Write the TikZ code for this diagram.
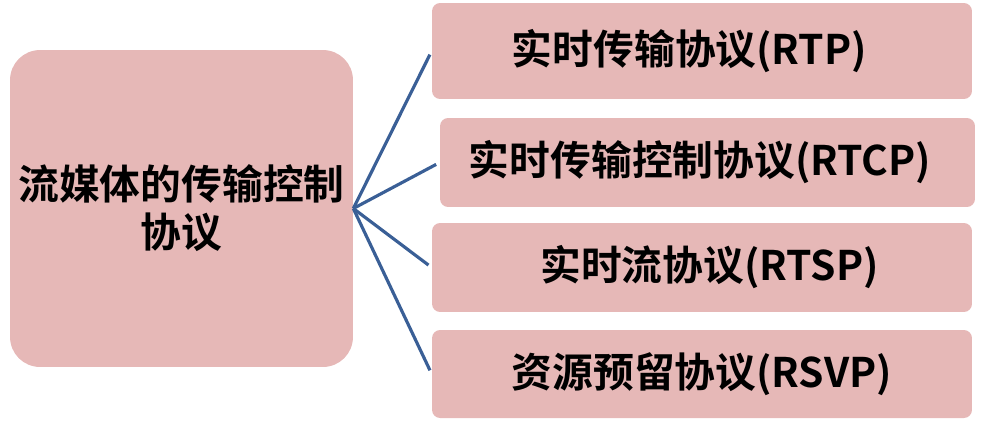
\documentclass[tikz,border=0pt]{standalone}
\usepackage{fontspec}
\usepackage{tikz}
\usepackage{xcolor}
\usetikzlibrary{arrows.meta,positioning}
\newfontfamily\cjk{Noto Sans CJK SC}[BoldFont={Noto Sans CJK SC Bold}]
\definecolor{boxpink}{RGB}{230,184,183}
\definecolor{linkblue}{RGB}{58,95,150}

\begin{document}
\begin{tikzpicture}[
    x=0.02cm,y=-0.02cm,
    every node/.style={font=\cjk\bfseries\fontsize{23.2}{27.3}\selectfont},
    topic/.style={rectangle,rounded corners=0.6cm,fill=boxpink,align=center,
      minimum width=6.86cm,minimum height=6.34cm,inner sep=0pt},
    proto/.style={rectangle,rounded corners=0.16cm,fill=boxpink,
      minimum width=10.8cm,inner sep=0pt},
    link/.style={linkblue,line width=1.8pt,shorten >=2.3pt}]
  \useasboundingbox (0,0) rectangle (986,423);
  % ---- left: main topic ----
  \node[topic] (ctl) at (181.5,208.5) {流媒体的传输控制\\协议};
  % ---- right: protocols ----
  \node[proto,minimum height=1.92cm] (rtp) at (702,51) {\hspace*{-0.5cm}实时传输协议(RTP)};
  \node[proto,minimum height=1.78cm,minimum width=10.7cm] (rtcp) at (707.5,162.5) {\hspace*{-0.3cm}实时传输控制协议(RTCP)};
  \node[proto,minimum height=1.78cm] (rtsp) at (702,267.5) {\hspace*{0.3cm}实时流协议(RTSP)};
  \node[proto,minimum height=1.76cm] (rsvp) at (702,374) {资源预留协议(RSVP)};
  % ---- connectors ----
  \draw[link] (ctl.east) -- (rtp.west);
  \draw[link] (ctl.east) -- (rtcp.west);
  \draw[link] (ctl.east) -- (rtsp.west);
  \draw[link] (ctl.east) -- (rsvp.west);
\end{tikzpicture}
\end{document}
